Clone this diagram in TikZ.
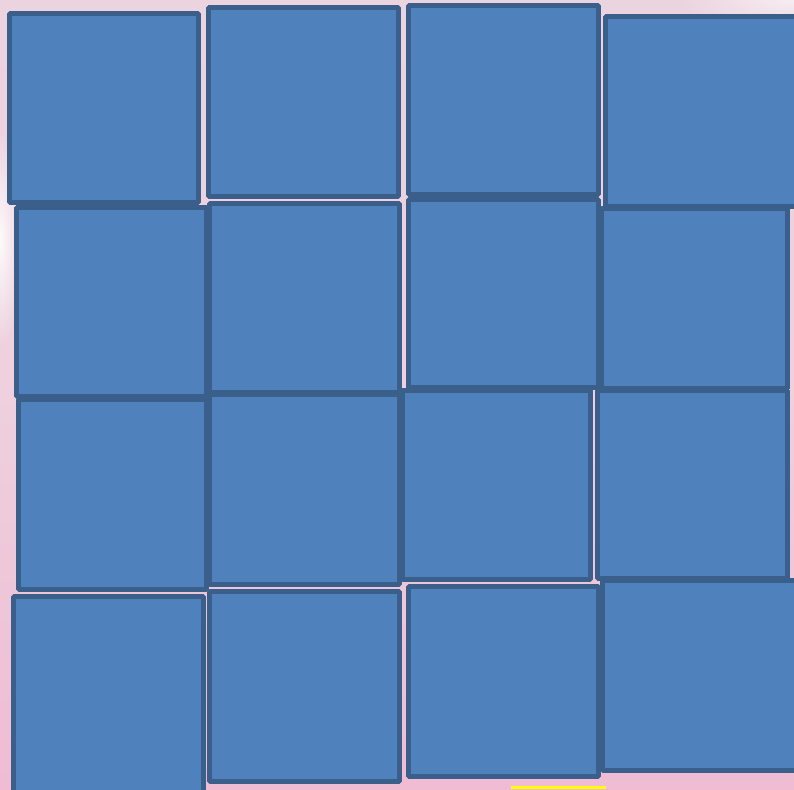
\documentclass[tikz,border=0pt]{standalone}
\usetikzlibrary{fadings}
\definecolor{boxfill}{HTML}{4F81BD}
\definecolor{boxline}{HTML}{3A5F8B}
\definecolor{bgtop}{HTML}{EBD3DF}
\definecolor{bgmid}{HTML}{EED0DE}
\definecolor{bgbot}{HTML}{EFBCD3}
\definecolor{bar}{HTML}{FFFF00}
\tikzfading[name=softglow, inner color=transparent!0, outer color=transparent!100]
\tikzset{
  tile/.style={fill=boxfill, draw=boxline, line width=4.8pt, rounded corners=1pt},
}
\begin{document}
\begin{tikzpicture}[x=1pt,y=-1pt]
  \useasboundingbox (0,0) rectangle (794,789);
  % background
  \shade[top color=bgtop, bottom color=bgbot, middle color=bgmid] (0,0) rectangle (794,789);
  \fill[white, path fading=softglow, opacity=0.9] (0,240) ellipse [x radius=22pt, y radius=110pt];
  \fill[white, path fading=softglow, opacity=0.6] (794,0) ellipse [x radius=120pt, y radius=30pt];
  \fill[bar] (511,786) rectangle (606,789);
  % row 1
  \draw[tile] (9.5,13.5) rectangle (198.5,202.5);
  \draw[tile] (208.5,7.5) rectangle (398.5,196.5);
  \draw[tile] (408.5,5.5) rectangle (598.5,194.5);
  \draw[tile] (605.5,16.5) rectangle (800,206.5);
  % row 2
  \draw[tile] (16.5,207.5) rectangle (206.5,396.5);
  \draw[tile] (209.5,203.5) rectangle (399.5,392.5);
  \draw[tile] (408.5,199.5) rectangle (598.5,387.5);
  \draw[tile] (601.5,208.5) rectangle (787.5,388.5);
  % row 3
  \draw[tile] (18.5,399.5) rectangle (206.5,589.5);
  \draw[tile] (209.5,394.5) rectangle (399.5,584.5);
  \draw[tile] (402.5,390.5) rectangle (590.5,579.5);
  \draw[tile] (597.5,390.5) rectangle (787.5,578.5);
  % row 4
  \draw[tile] (13.5,596.5) rectangle (203.5,800);
  \draw[tile] (209.5,591.5) rectangle (399.5,781.5);
  \draw[tile] (408.5,586.5) rectangle (598.5,776.5);
  \draw[tile] (602.5,580.5) rectangle (800,770.5);
\end{tikzpicture}
\end{document}
